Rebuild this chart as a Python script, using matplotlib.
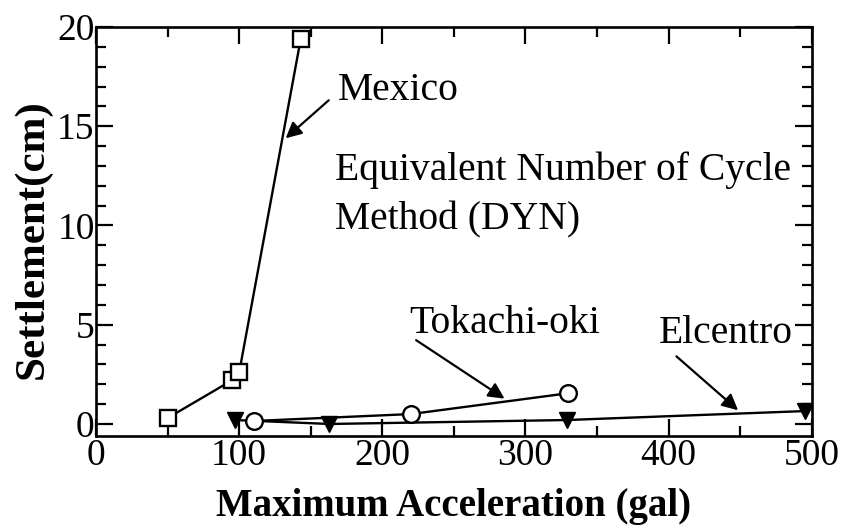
import matplotlib
matplotlib.use("Agg")
import matplotlib.pyplot as plt
from matplotlib.ticker import MultipleLocator

plt.rcParams['font.family'] = ['Liberation Serif', 'DejaVu Serif']

mexico_x = [50, 95, 100, 143]
mexico_y = [0.3, 2.2, 2.6, 19.4]
tokachi_x = [110, 220, 330]
tokachi_y = [0.15, 0.5, 1.55]
elcentro_x = [97, 163, 329, 495]
elcentro_y = [0.2, 0.0, 0.2, 0.65]

x_ticks = [0, 100, 200, 300, 400, 500]
y_ticks = [0, 5, 10, 15, 20]

fig = plt.figure(figsize=(8.5, 5.29), dpi=100)
ax = fig.add_axes([0.113, 0.176, 0.842, 0.773])

lw = 1.7
ax.plot(elcentro_x, elcentro_y, color='black', lw=lw, marker='v', ms=12,
        mfc='black', mec='black', zorder=3)
ax.plot(tokachi_x, tokachi_y, color='black', lw=lw, marker='o', ms=12,
        mfc='white', mec='black', mew=1.7, zorder=4)
ax.plot(mexico_x, mexico_y, color='black', lw=lw, marker='s', ms=12,
        mfc='white', mec='black', mew=1.7, zorder=4)

ax.set_xlim(0, 500)
ax.set_ylim(-0.6, 20)
ax.set_xticks(x_ticks)
ax.set_yticks(y_ticks)
ax.xaxis.set_minor_locator(MultipleLocator(50))
ax.yaxis.set_minor_locator(MultipleLocator(1))
ax.tick_params(which='both', direction='in', top=True, right=True, width=1.6,
               labelsize=27)
ax.tick_params(axis='x', pad=2)
ax.tick_params(axis='y', pad=1)
ax.tick_params(which='major', length=12)
ax.tick_params(which='minor', length=7)
for s in ax.spines.values():
    s.set_linewidth(1.9)

ax.set_xlabel('Maximum Acceleration (gal)', fontsize=28, fontweight='bold', labelpad=11)
ax.set_ylabel('Settlement(cm)', fontsize=31, fontweight='bold')
ax.yaxis.set_label_coords(-0.062, 0.48)

fs = 28.5
ax.text(169, 16.3, 'Mexico', fontsize=fs, va='baseline', ha='left')
ax.text(167, 12.3, 'Equivalent Number of Cycle', fontsize=fs, va='baseline', ha='left')
ax.text(167, 9.8, 'Method (DYN)', fontsize=fs, va='baseline', ha='left')
ax.text(219, 4.6, 'Tokachi-oki', fontsize=fs, va='baseline', ha='left')
ax.text(393, 4.1, 'Elcentro', fontsize=fs, va='baseline', ha='left')

arrow = dict(arrowstyle='-|>', color='black', lw=1.6, mutation_scale=24)
ax.annotate('', xy=(131, 14.3), xytext=(164, 16.4), arrowprops=arrow)
ax.annotate('', xy=(287, 1.2), xytext=(222, 4.3), arrowprops=arrow)
ax.annotate('', xy=(450, 0.6), xytext=(404, 3.5), arrowprops=arrow)

fig.savefig('out.png', dpi=100)
